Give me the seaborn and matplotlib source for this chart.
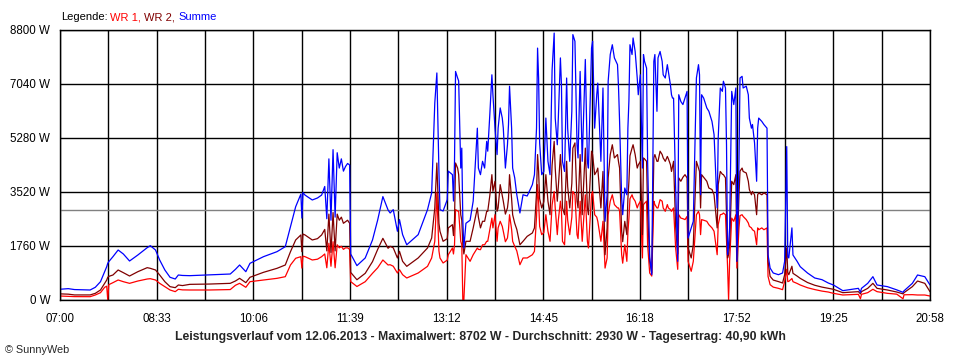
import seaborn as sns
import matplotlib.pyplot as plt
import numpy as np
import pandas as pd

# minutes after 07:00 and power in W
minutes = [0, 8, 14, 29, 34, 39, 43, 45, 46, 47, 51, 56, 61, 67, 75, 84, 87, 92, 96, 101,
           106, 111, 114, 118, 125, 144, 164, 169, 173, 179, 183, 196, 209, 217, 222, 227, 232, 233, 234, 236,
           243, 248, 252, 255, 257, 259, 261, 263, 265, 267, 269, 271, 273, 275, 277, 279, 280, 286, 294, 301,
           306, 311, 316, 318, 321, 325, 327, 330, 334, 345, 354, 358, 361, 363, 365, 366, 369, 373, 374, 378,
           379, 380, 381, 383, 384, 386, 387, 388, 389, 391, 395, 398, 402, 403, 405, 407, 409, 411, 412, 414,
           416, 417, 419, 421, 422, 424, 426, 427, 429, 431, 432, 433, 435, 436, 438, 440, 443, 446, 450, 455,
           457, 459, 460, 461, 462, 464, 466, 468, 470, 472, 474, 476, 477, 479, 480, 482, 483, 484, 486, 488,
           489, 491, 493, 494, 496, 498, 499, 501, 503, 506, 508, 509, 512, 513, 515, 517, 518, 521, 523, 525,
           527, 528, 530, 532, 534, 537, 538, 539, 541, 542, 544, 546, 547, 548, 549, 551, 552, 554, 556, 557,
           559, 561, 562, 563, 565, 566, 568, 570, 572, 573, 575, 576, 578, 580, 581, 583, 585, 586, 588, 589,
           590, 591, 593, 595, 596, 598, 600, 602, 604, 605, 608, 610, 613, 615, 616, 617, 618, 620, 623, 625,
           628, 630, 633, 634, 636, 638, 639, 641, 642, 643, 644, 645, 647, 649, 651, 652, 654, 655, 657, 658,
           661, 663, 664, 666, 667, 669, 671, 672, 673, 676, 678, 681, 682, 684, 687, 692, 696, 698, 700, 701,
           702, 705, 706, 710, 713, 720, 727, 734, 740, 745, 754, 769, 771, 772, 778, 783, 787, 797, 806, 812,
           813, 821, 826, 833, 838]

summe = [350, 370, 340, 326, 414, 597, 923, 1086, 1196, 1250, 1412, 1630, 1500, 1271, 1467, 1706, 1770, 1630, 1304, 978,
         740, 684, 815, 800, 793, 820, 847, 1000, 1141, 923, 1196, 1412, 1575, 1738, 2390, 3040, 3450, 2670, 3500, 3420,
         3260, 3325, 3420, 3700, 2650, 4600, 2600, 4900, 2700, 4800, 4300, 4600, 4200, 4350, 4450, 4400, 1500, 1120, 1370, 1956,
         2608, 3370, 2934, 2836, 2945, 2240, 2620, 2130, 1800, 2130, 2945, 3490, 6420, 7400, 4190, 2945, 2900, 3270, 4200, 4085,
         3225, 4520, 7450, 7235, 7140, 4300, 4950, 2600, 1695, 2500, 2600, 3225, 5600, 4300, 4085, 4520, 4300, 5170, 4850, 6040,
         7340, 6690, 5600, 4740, 5600, 6260, 5930, 5600, 4300, 5060, 5720, 6970, 5600, 4300, 3980, 3430, 2836, 3430, 3390, 3760,
         4085, 5600, 8210, 7235, 5120, 4085, 4190, 5930, 4520, 4085, 7500, 8700, 5930, 5060, 5930, 7890, 7020, 4520, 4190, 7235,
         5600, 4520, 6150, 8650, 8430, 5060, 4630, 7450, 4520, 7840, 4520, 4300, 8210, 8430, 5600, 6690, 7070, 4520, 6910, 2565,
         3430, 7130, 8000, 8320, 7890, 7670, 6910, 5820, 3325, 2780, 3650, 3430, 5600, 6500, 8320, 8000, 8540, 8100, 7235, 6690,
         7340, 4300, 8000, 7780, 7560, 4520, 1400, 825, 7780, 8000, 6150, 7890, 8100, 7780, 7340, 7235, 7670, 7450, 7000, 6690,
         6580, 6580, 3650, 1260, 6690, 6470, 6370, 6580, 6800, 2020, 2350, 2565, 7235, 7670, 7340, 3430, 6690, 6580, 6260, 6150,
         5820, 5390, 3000, 5280, 6910, 6800, 7130, 6910, 5060, 1476, 1800, 2350, 6800, 6370, 6910, 1260, 4520, 7235, 7290, 6910,
         6970, 6690, 5930, 5600, 5720, 5120, 3870, 5600, 5930, 5820, 5720, 5600, 1476, 1040, 880, 825, 880, 1260, 5000, 1400,
         1370, 2350, 1467, 1260, 1086, 880, 717, 662, 554, 489, 304, 380, 250, 380, 543, 760, 489, 435, 330, 250,
         300, 543, 815, 760, 489]

wr2 = [200, 190, 165, 165, 217, 326, 543, 650, 740, 770, 815, 978, 891, 782, 923, 1054, 1032, 978, 815, 597,
       435, 402, 489, 470, 510, 520, 543, 620, 706, 565, 740, 902, 1032, 1141, 1575, 1956, 2120, 1575, 2150, 2120,
       1956, 2000, 2120, 2300, 1600, 2800, 1550, 2850, 1600, 2800, 2600, 2700, 2500, 2550, 2600, 2500, 900, 660, 870, 1250,
       1650, 2010, 1685, 1750, 1700, 1370, 1586, 1260, 1097, 1370, 1695, 2020, 3000, 4465, 2500, 2240, 1913, 2000, 2350, 2455,
       2100, 2600, 4465, 4300, 4085, 2780, 2600, 1800, 1500, 1913, 1913, 2350, 3000, 2700, 2350, 2565, 2565, 2890, 2890, 3400,
       4085, 3540, 3870, 2890, 3000, 3760, 3400, 3220, 2800, 3000, 3300, 4085, 3300, 2780, 2500, 2300, 1800, 1913, 2075, 2185,
       2350, 3500, 4740, 4190, 3300, 3000, 3200, 4085, 3220, 2780, 4400, 5170, 4300, 3220, 3700, 4740, 4200, 3000, 2780, 4520,
       3700, 3000, 3800, 4950, 5120, 3220, 3000, 4740, 2780, 4950, 3000, 2780, 4850, 4740, 4085, 4200, 4300, 3000, 4190, 1476,
       2350, 3980, 4740, 5060, 4630, 4740, 4500, 4300, 2240, 1900, 2565, 2130, 3300, 3870, 4700, 4950, 5060, 4740, 4300, 4400,
       4520, 2130, 4630, 4600, 4520, 2890, 1260, 880, 4630, 4740, 4520, 4520, 4850, 4740, 4630, 4520, 4680, 4600, 4410, 4190,
       4350, 4520, 2400, 1500, 3980, 3870, 4000, 4085, 3980, 1695, 1370, 1800, 4520, 4300, 4190, 3000, 4085, 4000, 3870, 3650,
       3600, 3430, 2350, 3760, 4190, 4100, 4085, 3980, 2780, 1370, 1500, 1800, 3870, 3760, 4085, 1260, 3430, 4200, 4300, 4190,
       4140, 3870, 3600, 3430, 3540, 3430, 2780, 3430, 3490, 3430, 3490, 3430, 1260, 770, 650, 600, 554, 825, 1700, 900,
       825, 1100, 870, 780, 706, 570, 480, 420, 380, 349, 239, 272, 200, 272, 380, 543, 380, 326, 260, 200,
       240, 435, 619, 543, 272]

wr1 = [130, 120, 110, 108, 163, 239, 414, 450, 0, 500, 565, 652, 597, 543, 619, 684, 695, 652, 543, 435,
       326, 272, 349, 330, 326, 326, 340, 480, 543, 414, 597, 652, 706, 760, 1141, 1360, 1412, 1040, 1430, 1412,
       1304, 1330, 1412, 1500, 1050, 1850, 1100, 1900, 1050, 1800, 1700, 1750, 1650, 1700, 1700, 1650, 600, 440, 597, 870,
       1050, 1304, 1141, 1150, 1100, 880, 988, 825, 717, 880, 1097, 1370, 1913, 3500, 1600, 1370, 1206, 1300, 1476, 1695,
       1500, 1800, 2945, 2900, 2890, 1913, 1800, 0, 0, 1476, 1260, 1476, 1695, 1650, 1640, 1800, 1800, 1913, 1913, 2300,
       2670, 2350, 2780, 1913, 2350, 2565, 2400, 2240, 1900, 2020, 2300, 2780, 2300, 1913, 1750, 1600, 1150, 1370, 1370, 1476,
       1586, 2700, 3760, 3220, 2400, 2130, 2200, 2780, 2240, 1913, 3100, 3540, 3000, 2130, 2600, 3220, 2900, 1913, 1800, 3220,
       2600, 2130, 2700, 3540, 3430, 2130, 2000, 3220, 1913, 3430, 1913, 1695, 3430, 3540, 2780, 2700, 2565, 1913, 2565, 1040,
       1370, 2780, 3220, 3430, 3110, 3000, 3000, 2900, 1476, 1200, 1800, 1260, 2200, 2670, 3300, 3430, 3325, 3220, 3000, 3100,
       3220, 1370, 3110, 3150, 3220, 1800, 880, 780, 3220, 3110, 3000, 3000, 3270, 3220, 3000, 2890, 3110, 3000, 2945, 2890,
       2950, 3000, 1700, 1000, 2780, 2670, 2650, 2620, 2725, 1260, 935, 1260, 2780, 2890, 2780, 2130, 2620, 2600, 2565, 2455,
       2350, 2240, 1476, 2455, 2780, 2800, 2836, 2780, 1913, 1097, 0, 1260, 2670, 2565, 2780, 1040, 2350, 2750, 2780, 2725,
       2620, 2510, 2400, 2350, 2290, 2240, 1800, 2350, 2290, 2350, 2290, 2350, 770, 500, 420, 380, 337, 608, 1000, 600,
       608, 700, 597, 540, 489, 400, 340, 290, 260, 217, 163, 185, 40, 185, 239, 349, 272, 217, 190, 40,
       170, 174, 163, 163, 130]

tick_labels = ["07:00", "08:33", "10:06", "11:39", "13:12", "14:45", "16:18", "17:52", "19:25", "20:58"]
y_ticks = [0, 1760, 3520, 5280, 7040, 8800]
average = 2930
title = ("Leistungsverlauf vom 12.06.2013 - Maximalwert: 8702 W - "
         "Durchschnitt: 2930 W - Tagesertrag: 40,90 kWh")

df = pd.DataFrame({"min": minutes, "WR 1": wr1, "WR 2": wr2, "Summe": summe})
long = df.melt(id_vars="min", var_name="serie", value_name="W")

sns.set_style("white")
plt.rcParams["font.family"] = ["Liberation Sans", "DejaVu Sans"]

fig = plt.figure(figsize=(9.6, 3.6), dpi=100)
ax = fig.add_axes([60 / 960, 60 / 360, 870 / 960, 270 / 360])

ax.axhline(average, color="#808080", lw=1, zorder=1)
sns.lineplot(data=long, x="min", y="W", hue="serie",
             hue_order=["WR 1", "WR 2", "Summe"],
             palette={"WR 1": "#ff0000", "WR 2": "#800000", "Summe": "#0000ff"},
             estimator=None, lw=0.9, legend=False, ax=ax, zorder=2)

ax.set_xlim(0, 838)
ax.set_ylim(0, 8800)
xt = np.linspace(0, 838, 19)
ax.set_xticks(xt)
ax.set_xticklabels([tick_labels[i // 2] if i % 2 == 0 else "" for i in range(19)])
ax.set_yticks(y_ticks)
ax.set_yticklabels([f"{v} W" for v in y_ticks])
ax.set_xlabel("")
ax.set_ylabel("")
ax.grid(True, color="black", lw=1)
ax.set_axisbelow(True)
for s in ax.spines.values():
    s.set_color("black")
    s.set_linewidth(1)
ax.tick_params(axis="both", direction="out", color="black", width=1, labelsize=8.3, labelcolor="black")
ax.tick_params(axis="y", length=5, pad=2)
ax.tick_params(axis="x", length=4, pad=5)

# header legend, coloured word by word
ty = 1 - 17 / 360
fig.text(61 / 960, ty, "Legende:", color="black", fontsize=8, va="center")
fig.text(110 / 960, ty, "WR 1,", color="#ff0000", fontsize=8, va="center")
fig.text(144 / 960, ty, "WR 2,", color="#800000", fontsize=8, va="center")
fig.text(178 / 960, ty, "Summe", color="#0000ff", fontsize=8, va="center")

fig.text(0.5, 1 - 337 / 360, title, ha="center", va="center", fontsize=8.8, fontweight="bold")
fig.text(5 / 960, 1 - 350 / 360, "© SunnyWeb", fontsize=7.8, va="center")

fig.savefig("out.png", dpi=100)
